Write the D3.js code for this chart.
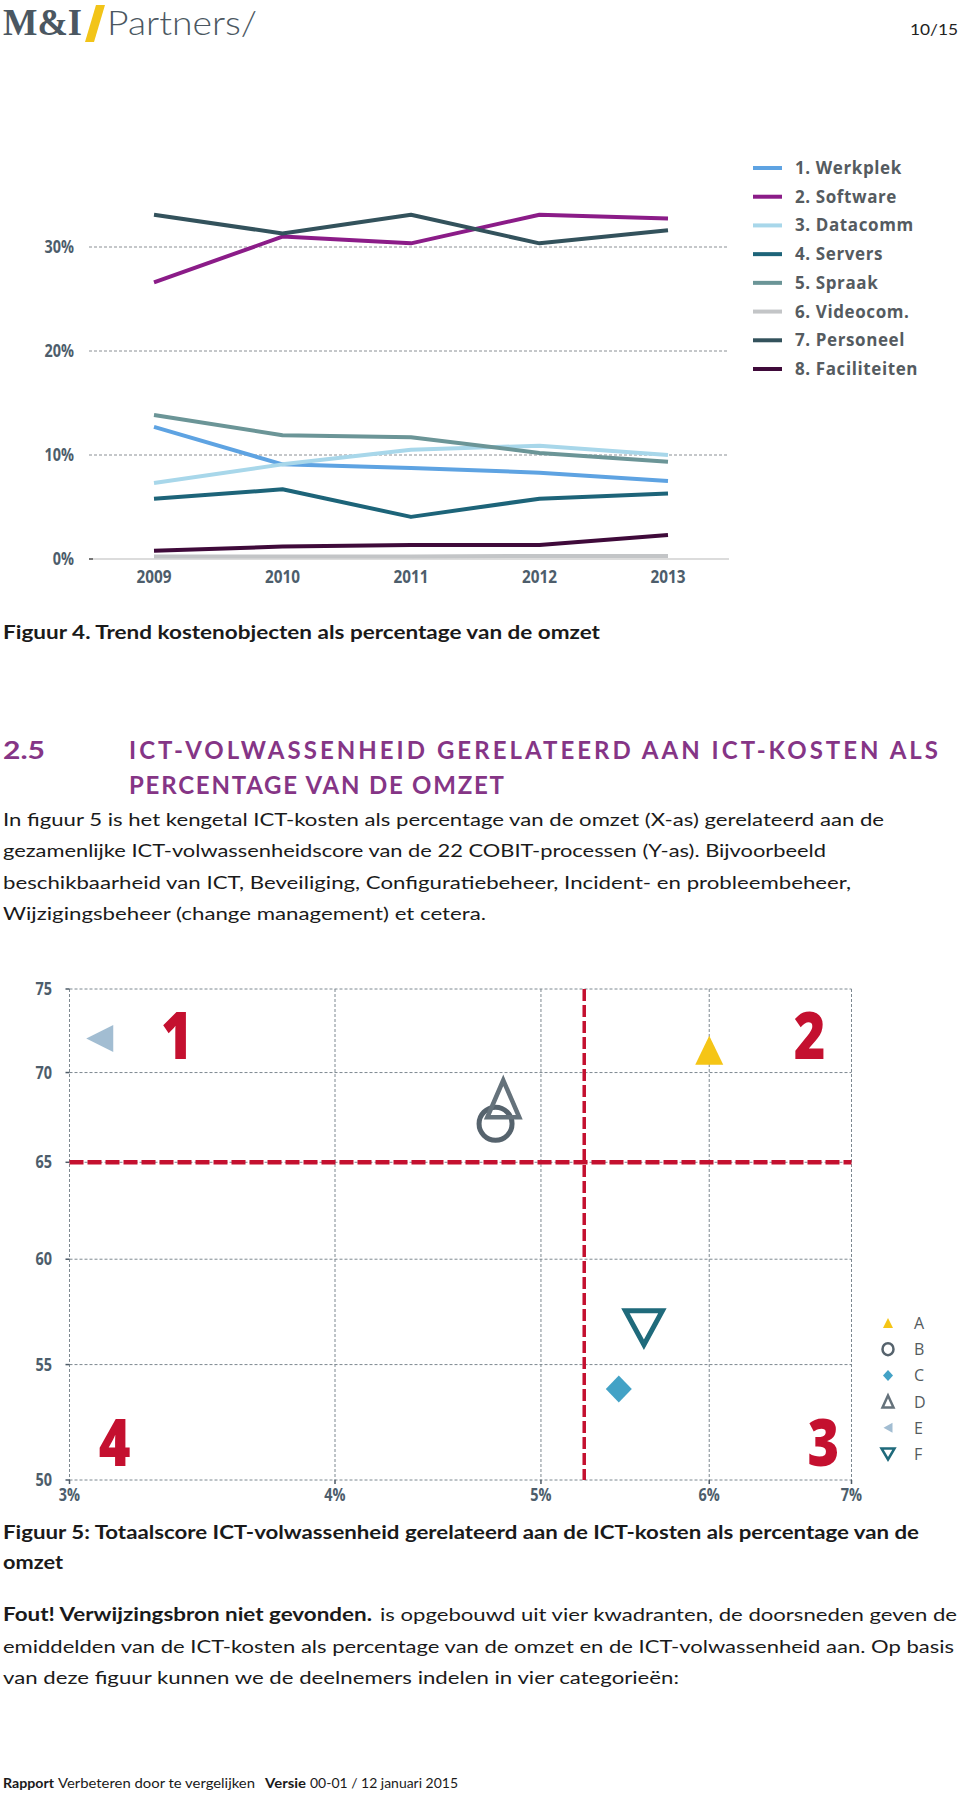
<!DOCTYPE html>
<html><head><meta charset="utf-8">
<script src="https://cdn.jsdelivr.net/npm/d3@7"></script>
<style>body{margin:0;background:#fff}svg{display:block}</style>
</head><body><svg id="page" width="960" height="1794"></svg>
<script>
// ---------- DATA: Figure 4 (trend lines) ----------
const years = [2009, 2010, 2011, 2012, 2013];
const seriesNames = ["1. Werkplek","2. Software","3. Datacomm","4. Servers","5. Spraak","6. Videocom.","7. Personeel","8. Faciliteiten"];
const werkplek     = [12.7, 9.1, 8.75, 8.3, 7.5];
const software     = [26.6, 31.0, 30.35, 33.1, 32.75];
const datacomm     = [7.3, 9.1, 10.5, 10.9, 10.0];
const servers      = [5.8, 6.7, 4.05, 5.8, 6.3];
const spraak       = [13.85, 11.9, 11.7, 10.2, 9.35];
const videocom     = [0.25, 0.25, 0.25, 0.3, 0.3];
const personeel    = [33.1, 31.3, 33.1, 30.35, 31.6];
const faciliteiten = [0.8, 1.2, 1.35, 1.35, 2.3];
const lineTicks = [0, 10, 20, 30];
const lineColors = ["#5ea3e2","#8b1c88","#a8d7ea","#1d6479","#6b9597","#c3c5c7","#33525c","#3f0a3a"];

// ---------- DATA: Figure 5 (quadrant scatter) ----------
const participants = ["A","B","C","D","E","F"];
const costPct  = [6.0, 4.76, 5.44, 4.80, 3.10, 5.59];
const maturity = [71.3, 67.1, 53.9, 68.5, 72.0, 56.7];
const xTicks = [3, 4, 5, 6, 7];
const yTicks = [50, 55, 60, 65, 70, 75];
const avgCost = 5.24, avgMaturity = 65;
const quadrantLabels = ["1","2","3","4"];
const quadrantCost = [3.37, 6.69, 6.79, 3.15];
const quadrantMaturity = [72.2, 72.2, 51.6, 51.6];

const svg = d3.select("#page");
const BODY = "Lato, 'Open Sans', sans-serif";
const SANS = "'Open Sans', sans-serif";

function line(x, y, str, endX, o = {}) {
  const t = svg.append("text").attr("x", x).attr("y", y).text(str)
    .style("font-family", o.family || BODY).style("font-size", (o.size || 18) + "px")
    .style("font-weight", o.weight || 400).style("fill", o.fill || "#1a1a1a");
  if (o.ls) t.style("letter-spacing", o.ls + "px");
  if (endX) t.attr("textLength", endX - x).attr("lengthAdjust", o.adjust || "spacingAndGlyphs");
  return t;
}
// squeeze text horizontally to imitate a condensed face
function condense(sel, f) {
  sel.each(function () {
    const w = this.getComputedTextLength();
    d3.select(this).attr("textLength", w * f).attr("lengthAdjust", "spacingAndGlyphs");
  });
}

// ---------- Header ----------
line(3, 35, "M&I", 82, {family: "'Liberation Serif', serif", size: 38, weight: 700, fill: "#4b5761"});
svg.append("path").attr("d", "M85,42 L94,42 L105,5 L96,5 Z").attr("fill", "#f2c418");
line(107, 35, "Partners/", 257, {family: "Lato, sans-serif", size: 34, weight: 300, fill: "#4b5761"});
line(910, 35, "10/15", 958, {size: 16, fill: "#222"});

// ---------- Figure 4 ----------
const y1 = d3.scaleLinear().domain([0, 30]).range([559, 247]);
const x1 = d3.scalePoint().domain(years).range([154, 668]);
const g1 = svg.append("g");
g1.selectAll("line.grid").data(lineTicks.filter(d => d > 0)).join("line")
  .attr("x1", 89).attr("x2", 729).attr("y1", d => y1(d)).attr("y2", d => y1(d))
  .attr("stroke", "#8a8f94").attr("stroke-width", 1).attr("stroke-dasharray", "3,2");
g1.append("line").attr("x1", 89).attr("x2", 729).attr("y1", y1(0)).attr("y2", y1(0))
  .attr("stroke", "#d0d0d0").attr("stroke-width", 1.5);
g1.append("line").attr("x1", 89).attr("x2", 93).attr("y1", y1(0)).attr("y2", y1(0))
  .attr("stroke", "#555").attr("stroke-width", 1.5);
const yl1 = g1.selectAll("text.yl").data(lineTicks).join("text")
  .attr("x", 74).attr("y", d => y1(d) + 6).attr("text-anchor", "end").text(d => d + "%")
  .style("font-family", SANS).style("font-weight", 700).style("font-size", "18px").style("fill", "#4d5d6b");
condense(yl1, 0.8);
const xl1 = g1.selectAll("text.xl").data(years).join("text")
  .attr("x", d => x1(d)).attr("y", 583).attr("text-anchor", "middle").text(d => d)
  .style("font-family", SANS).style("font-weight", 700).style("font-size", "18px").style("fill", "#4d5d6b");
condense(xl1, 0.85);

const allSeries = [werkplek, software, datacomm, servers, spraak, videocom, personeel, faciliteiten];
const lineGen = d3.line().x((d, i) => x1(years[i])).y(d => y1(d));
g1.selectAll("path.series").data(allSeries).join("path")
  .attr("d", d => lineGen(d)).attr("fill", "none")
  .attr("stroke", (d, i) => lineColors[i]).attr("stroke-width", 4).attr("stroke-linejoin", "round");

const legY = d3.scalePoint().domain(seriesNames).range([168, 369]);
const leg = g1.selectAll("g.leg").data(seriesNames).join("g")
  .attr("transform", d => `translate(0,${legY(d)})`);
leg.append("line").attr("x1", 753).attr("x2", 782).attr("y1", 0).attr("y2", 0)
  .attr("stroke", (d, i) => lineColors[i]).attr("stroke-width", 4);
leg.append("text").attr("x", 795).attr("y", 6).text(d => d)
  .style("font-family", SANS).style("font-weight", 700).style("font-size", "17px")
  .style("letter-spacing", "0.6px").style("fill", "#555b60");

line(3, 639, "Figuur 4. Trend kostenobjecten als percentage van de omzet", 600, {weight: 700, size: 19});

// ---------- Section heading & paragraph ----------
const purple = "#853586";
line(3, 759, "2.5", 45, {size: 24, weight: 700, fill: purple});
line(129, 759, "ICT-VOLWASSENHEID GERELATEERD AAN ICT-KOSTEN ALS", 938, {size: 24, weight: 700, fill: purple, adjust: "spacing"});
line(129, 794, "PERCENTAGE VAN DE OMZET", 504, {size: 24, weight: 700, fill: purple, adjust: "spacing"});
line(3, 826, "In figuur 5 is het kengetal ICT-kosten als percentage van de omzet (X-as) gerelateerd aan de", 884);
line(3, 857, "gezamenlijke ICT-volwassenheidscore van de 22 COBIT-processen (Y-as). Bijvoorbeeld", 826);
line(3, 889, "beschikbaarheid van ICT, Beveiliging, Configuratiebeheer, Incident- en probleembeheer,", 851);
line(3, 920, "Wijzigingsbeheer (change management) et cetera.", 486);

// ---------- Figure 5 ----------
const x2 = d3.scaleLog().domain([3, 7]).range([69.5, 851.5]);
const y2 = d3.scaleLog().domain([50, 75]).range([1480, 989]);
const g2 = svg.append("g");
g2.selectAll("line.hg").data(yTicks).join("line")
  .attr("x1", x2(3)).attr("x2", x2(7)).attr("y1", d => y2(d)).attr("y2", d => y2(d))
  .attr("stroke", "#7d8890").attr("stroke-width", 1).attr("stroke-dasharray", "3,2");
g2.selectAll("line.vg").data(xTicks).join("line")
  .attr("y1", y2(75)).attr("y2", y2(50)).attr("x1", d => x2(d)).attr("x2", d => x2(d))
  .attr("stroke", "#7d8890").attr("stroke-width", 1).attr("stroke-dasharray", "3,2");
g2.selectAll("line.yt").data(yTicks).join("line")
  .attr("x1", x2(3) - 4).attr("x2", x2(3)).attr("y1", d => y2(d)).attr("y2", d => y2(d))
  .attr("stroke", "#4d5a66").attr("stroke-width", 1.5);
g2.selectAll("line.xt").data(xTicks).join("line")
  .attr("y1", y2(50)).attr("y2", y2(50) + 4).attr("x1", d => x2(d)).attr("x2", d => x2(d))
  .attr("stroke", "#4d5a66").attr("stroke-width", 1.5);
const yl2 = g2.selectAll("text.yl").data(yTicks).join("text")
  .attr("x", 52).attr("y", d => y2(d) + 6).attr("text-anchor", "end").text(d => d)
  .style("font-family", SANS).style("font-weight", 700).style("font-size", "17px").style("fill", "#4d5d6b");
condense(yl2, 0.85);
const xl2 = g2.selectAll("text.xl").data(xTicks).join("text")
  .attr("x", d => x2(d)).attr("y", 1501).attr("text-anchor", "middle").text(d => d + "%")
  .style("font-family", SANS).style("font-weight", 700).style("font-size", "17px").style("fill", "#4d5d6b");
condense(xl2, 0.85);

const red = "#c4102f";
g2.append("line").attr("x1", x2(3)).attr("x2", x2(7)).attr("y1", y2(avgMaturity)).attr("y2", y2(avgMaturity))
  .attr("stroke", red).attr("stroke-width", 4.5).attr("stroke-dasharray", "14,4");
g2.append("line").attr("x1", x2(avgCost)).attr("x2", x2(avgCost)).attr("y1", y2(75)).attr("y2", y2(50))
  .attr("stroke", red).attr("stroke-width", 3.5).attr("stroke-dasharray", "12,4");

// marker shapes (centred on bounding box)
const shapes = {
  triUp:   (w, h) => `M0,${-h/2}L${w/2},${h/2}L${-w/2},${h/2}Z`,
  triDown: (w, h) => `M0,${h/2}L${w/2},${-h/2}L${-w/2},${-h/2}Z`,
  triLeft: (w, h) => `M${-w/2},0L${w/2},${-h/2}L${w/2},${h/2}Z`,
  diamond: (w, h) => `M0,${-h/2}L${w/2},0L0,${h/2}L${-w/2},0Z`,
  circle:  (w, h) => `M${w/2},0A${w/2},${h/2} 0 1,1 ${-w/2},0A${w/2},${h/2} 0 1,1 ${w/2},0Z`
};
const markerStyle = {
  A: {shape: "triUp",   fill: "#f5c516", stroke: "none",    big: [28, 29], small: [10, 10], sw: 0},
  B: {shape: "circle",  fill: "none",    stroke: "#56636d", big: [33, 33], small: [11, 12], sw: 5},
  C: {shape: "diamond", fill: "#43a2c6", stroke: "none",    big: [26, 27], small: [10, 11], sw: 0},
  D: {shape: "triUp",   fill: "none",    stroke: "#65727b", big: [32, 37], small: [11, 12], sw: 4.5},
  E: {shape: "triLeft", fill: "#a2bdd2", stroke: "none",    big: [27, 27], small: [9, 10],  sw: 0},
  F: {shape: "triDown", fill: "none",    stroke: "#1f6a7b", big: [37, 34], small: [13, 11], sw: 5}
};
const pts = participants.map((p, i) => ({p, x: costPct[i], y: maturity[i]}));
g2.selectAll("path.mk").data(pts).join("path")
  .attr("transform", d => `translate(${x2(d.x)},${y2(d.y)})`)
  .attr("d", d => { const s = markerStyle[d.p]; return shapes[s.shape](...s.big); })
  .attr("fill", d => markerStyle[d.p].fill).attr("stroke", d => markerStyle[d.p].stroke)
  .attr("stroke-width", d => markerStyle[d.p].sw).attr("stroke-linejoin", "miter");

const ql = g2.selectAll("text.q").data(quadrantLabels).join("text")
  .attr("x", (d, i) => x2(quadrantCost[i])).attr("y", (d, i) => y2(quadrantMaturity[i]) + 24)
  .attr("text-anchor", "middle").text(d => d)
  .style("font-family", SANS).style("font-weight", 800).style("font-size", "66px").style("fill", red);
condense(ql, 0.82);

const legY2 = d3.scalePoint().domain(participants).range([1323, 1454]);
const leg2 = g2.selectAll("g.leg2").data(participants).join("g")
  .attr("transform", d => `translate(0,${legY2(d)})`);
leg2.append("path").attr("transform", "translate(888,0)")
  .attr("d", d => { const s = markerStyle[d]; return shapes[s.shape](...s.small); })
  .attr("fill", d => markerStyle[d].fill).attr("stroke", d => markerStyle[d].stroke)
  .attr("stroke-width", d => markerStyle[d].sw ? 2.5 : 0);
leg2.append("text").attr("x", 914).attr("y", 6).text(d => d)
  .style("font-family", SANS).style("font-size", "16px").style("fill", "#555b60");

// ---------- Caption & following text ----------
line(3, 1539, "Figuur 5: Totaalscore ICT-volwassenheid gerelateerd aan de ICT-kosten als percentage van de", 919, {weight: 700, size: 19});
line(3, 1569, "omzet", 63, {weight: 700, size: 19});
line(3, 1621, "Fout! Verwijzingsbron niet gevonden.", 372, {weight: 700, size: 19});
line(380, 1621, "is opgebouwd uit vier kwadranten, de doorsneden geven de", 957);
line(3, 1653, "emiddelden van de ICT-kosten als percentage van de omzet en de ICT-volwassenheid aan. Op basis", 954);
line(3, 1684, "van deze figuur kunnen we de deelnemers indelen in vier categorieën:", 679);

line(3, 1788, "Rapport", 54, {weight: 700, size: 14});
line(58, 1788, "Verbeteren door te vergelijken", 255, {size: 14});
line(265, 1788, "Versie", 306, {weight: 700, size: 14});
line(310, 1788, "00-01 / 12 januari 2015", 458, {size: 14});
</script></body></html>
